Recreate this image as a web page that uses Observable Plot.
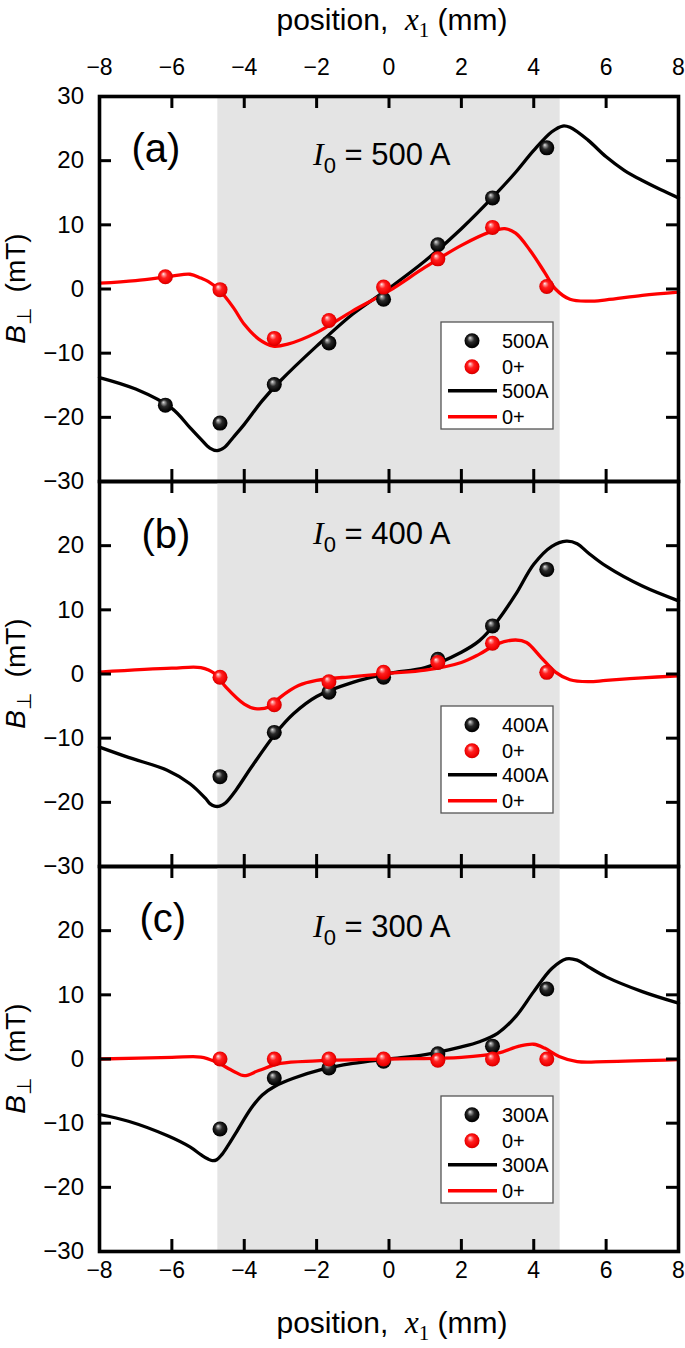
<!DOCTYPE html>
<html><head><meta charset="utf-8">
<script src="https://cdn.jsdelivr.net/npm/d3@7"></script>
<script src="https://cdn.jsdelivr.net/npm/@observablehq/plot@0.6"></script>
<style>
body{margin:0;background:#fff;}
#wrap{position:relative;width:685px;height:1348px;overflow:hidden;background:#fff;font-family:"Liberation Sans",Arial,sans-serif;}
#wrap svg{position:absolute;left:0;}
</style></head><body><div id="wrap"></div>
<script>
// ---------- data ----------
const xTicks = [-8,-6,-4,-2,0,2,4,6,8];
const xInnerTicks = [-6,-4,-2,0,2,4,6];
const yTicksA = [-30,-20,-10,0,10,20,30];
const yTicksBC = [-30,-20,-10,0,10,20];
const yInnerTicks = [-20,-10,0,10,20];
const shadeX1 = -4.73, shadeX2 = 4.73;

// panel (a) I0 = 500 A
const aPtX = [-6.18,-4.67,-3.17,-1.66,-0.15,1.35,2.86,4.36];
const aBlackPtY = [-18.1,-20.9,-14.9,-8.4,-1.6,6.9,14.2,22.0];
const aRedPtY = [1.9,-0.1,-7.7,-4.9,0.3,4.7,9.6,0.4];
const aBlackCurveX = [-8,-7,-6,-5.5,-5.2,-4.95,-4.75,-4.55,-4.3,-4,-3.5,-3,-2,-1,0,1,2,3,3.5,4,4.5,4.8,5,5.5,6,6.5,7,7.5,8];
const aBlackCurveY = [-13.8,-15.6,-18.6,-21.6,-23.4,-24.8,-25.2,-24.7,-23.1,-21.1,-17.4,-14.3,-8.9,-3.9,0.1,4.4,9.4,15.1,18.2,21.6,24.5,25.4,25.2,23.2,20.6,18.5,16.9,15.5,14.2];
const aRedCurveX = [-8,-7,-6,-5.5,-5.2,-5,-4.7,-4.3,-4,-3.6,-3.2,-2.8,-2,-1,0,1,2,2.8,3.2,3.5,3.9,4.3,4.6,5,5.5,6,7,8];
const aRedCurveY = [0.9,1.3,2.0,2.3,1.7,1.2,-0.1,-2.9,-5.5,-7.8,-8.9,-8.6,-6.8,-3.4,-0.3,3.4,6.8,8.9,9.4,8.7,6.0,2.6,0,-1.6,-1.9,-1.7,-1.0,-0.5];
const aLegend = ["500A","0+","500A","0+"];

// panel (b) I0 = 400 A
const bPtX = [-4.67,-3.17,-1.66,-0.15,1.35,2.86,4.36];
const bBlackPtY = [-16.0,-9.1,-2.85,-0.5,2.3,7.5,16.3];
const bRedPtY = [-0.5,-4.8,-1.2,0.26,1.8,4.8,0.26];
const bBlackCurveX = [-8,-7.2,-6.13,-5.5,-5.07,-4.95,-4.82,-4.68,-4.52,-4.23,-3.8,-3.14,-2.64,-2,-1,0,1,2,2.5,3,3.5,4,4.5,4.9,5.2,5.5,6,7,8];
const bBlackCurveY = [-11.4,-13.0,-15.0,-17.1,-19.4,-20.2,-20.6,-20.6,-20.1,-18.1,-14.5,-9.3,-6.2,-3.5,-1.3,0.1,1.0,3.4,5.2,8.3,12.4,17.1,19.9,20.7,20.3,18.9,16.8,13.7,11.4];
const bRedCurveX = [-8,-6,-5.2,-4.8,-4.5,-4,-3.7,-3.3,-3,-2.5,-2,-1,0,1,2,2.5,3,3.5,3.8,4.2,4.6,5,5.5,6,7,8];
const bRedCurveY = [0.3,0.9,1.0,0,-2.1,-4.7,-5.4,-5.1,-3.6,-1.8,-1.0,-0.4,0.1,0.6,1.8,3.1,4.7,5.3,4.9,2.6,0.3,-0.9,-1.2,-1.0,-0.6,-0.3];
const bLegend = ["400A","0+","400A","0+"];

// panel (c) I0 = 300 A
const cPtX = [-4.67,-3.17,-1.66,-0.15,1.35,2.86,4.36];
const cBlackPtY = [-10.9,-2.95,-1.4,-0.36,0.8,2.0,10.9];
const cRedPtY = [0,0,0,0,-0.2,0,0];
const cBlackCurveX = [-8,-7.2,-6.1,-5.5,-5.2,-5.0,-4.88,-4.76,-4.62,-4.45,-4.23,-3.8,-3.5,-3.14,-2.64,-1.9,-1,0,1,2,2.5,3,3.5,4,4.5,4.9,5.2,5.5,6,7,8];
const cBlackCurveY = [-8.65,-9.7,-12.0,-13.7,-14.9,-15.6,-15.85,-15.7,-14.9,-13.5,-11.5,-7.6,-5.6,-4.2,-3.0,-1.7,-0.7,0,0.7,1.9,2.7,4.0,6.6,10.5,14.1,15.6,15.4,14.4,12.8,10.5,8.7];
const cRedCurveX = [-8,-6,-5.2,-4.8,-4.3,-4,-3.6,-3,-2,0,2,3,3.6,4,4.3,4.7,5.2,6,8];
const cRedCurveY = [0,0.25,0.3,-0.4,-1.9,-2.6,-1.8,-0.7,-0.3,0,0.25,0.9,2.0,2.3,1.7,0.4,-0.4,-0.4,-0.1];
const cLegend = ["300A","0+","300A","0+"];

const panelLetters = ["(a)","(b)","(c)"];
const currents = ["500","400","300"];

// ---------- layout ----------
const W = 685, ML = 99, MR = 7;
const FONT = "Liberation Sans, Arial, sans-serif";
const SERIF = "Liberation Serif, Times New Roman, serif";
const zip = (xs, ys) => xs.map((x, i) => ({x, y: ys[i]}));

const panels = [
  {top:0, height:485, mt:96, mb:4, yTicks:yTicksA, axisTop:true, axisBottom:false,
   ptX:aPtX, bPt:aBlackPtY, rPt:aRedPtY, bcX:aBlackCurveX, bcY:aBlackCurveY, rcX:aRedCurveX, rcY:aRedCurveY},
  {top:477, height:393, mt:4, mb:4, yTicks:yTicksBC, axisTop:false, axisBottom:false,
   ptX:bPtX, bPt:bBlackPtY, rPt:bRedPtY, bcX:bBlackCurveX, bcY:bBlackCurveY, rcX:bRedCurveX, rcY:bRedCurveY},
  {top:862, height:486, mt:4, mb:97, yTicks:yTicksBC, axisTop:false, axisBottom:true,
   ptX:cPtX, bPt:cBlackPtY, rPt:cRedPtY, bcX:cBlackCurveX, bcY:cBlackCurveY, rcX:cRedCurveX, rcY:cRedCurveY}
];

const wrap = document.getElementById("wrap");

panels.forEach(p => {
  const plotH = p.height - p.mt - p.mb;
  const plotW = W - ML - MR;
  const tick = {stroke:"#000", strokeWidth:3};
  const marks = [
    Plot.rect([{x1:shadeX1, x2:shadeX2}], {x1:"x1", x2:"x2", fill:"#e4e4e4"}),
    Plot.line(zip(p.bcX, p.bcY), {x:"x", y:"y", stroke:"#000", strokeWidth:3.3, curve:"catmull-rom"}),
    Plot.line(zip(p.rcX, p.rcY), {x:"x", y:"y", stroke:"#ff0000", strokeWidth:3.3, curve:"catmull-rom"}),
    Plot.dot(zip(p.ptX, p.bPt), {x:"x", y:"y", r:7.5, fill:"url(#ballK)"}),
    Plot.dot(zip(p.ptX, p.rPt), {x:"x", y:"y", r:7.5, fill:"url(#ballR)"}),
    Plot.tickX(xInnerTicks, {x:d=>d, ...tick, insetBottom: plotH - 12}),
    Plot.tickX(xInnerTicks, {x:d=>d, ...tick, insetTop: plotH - 12}),
    Plot.tickY(yInnerTicks, {y:d=>d, ...tick, insetRight: plotW - 12}),
    Plot.tickY(yInnerTicks, {y:d=>d, ...tick, insetLeft: plotW - 12}),
    Plot.axisY(p.yTicks, {anchor:"left", tickSize:0, tickPadding:15.5, fontSize:24, label:null}),
    Plot.frame({stroke:"#000", strokeWidth:3.6})
  ];
  if (p.axisTop) marks.push(Plot.axisX(xTicks, {anchor:"top", tickSize:0, tickPadding:21.5, fontSize:23, label:null}));
  if (p.axisBottom) marks.push(Plot.axisX(xTicks, {anchor:"bottom", tickSize:0, tickPadding:10.5, fontSize:23, label:null}));
  const xOpts = {domain:[-8,8]};
  if (!p.axisTop && !p.axisBottom) xOpts.axis = null;
  const svg = Plot.plot({
    width: W, height: p.height,
    marginLeft: ML, marginRight: MR, marginTop: p.mt, marginBottom: p.mb,
    x: xOpts, y: {domain:[-30,30]},
    style: {fontFamily: FONT, background:"transparent", color:"#000", overflow:"visible"},
    marks
  });
  svg.style.top = p.top + "px";
  svg.style.position = "absolute";
  wrap.appendChild(svg);
});

// ---------- overlay: titles, panel labels, legends ----------
const ov = d3.select(wrap).append("svg")
  .attr("width", W).attr("height", 1348)
  .style("top","0px").style("position","absolute")
  .attr("font-family", FONT);

const defs = ov.append("defs");
function ball(id, stops) {
  const g = defs.append("radialGradient").attr("id", id)
    .attr("cx","0.5").attr("cy","0.5").attr("r","0.55").attr("fx","0.36").attr("fy","0.3");
  stops.forEach(([o,c]) => g.append("stop").attr("offset", o).attr("stop-color", c));
}
ball("ballK", [[0,"#e8e8e8"],[0.15,"#9a9a9a"],[0.42,"#2a2a2a"],[0.8,"#050505"],[1,"#000"]]);
ball("ballR", [[0,"#fff4f4"],[0.14,"#ff9a9a"],[0.4,"#ff2020"],[0.8,"#ee0000"],[1,"#b80000"]]);

function xTitle(y) {
  const t = ov.append("text").attr("x", 392).attr("y", y).attr("text-anchor","middle")
    .attr("font-size", 30).attr("fill","#000");
  t.append("tspan").text("position,\u00a0 ");
  t.append("tspan").attr("font-family", SERIF).attr("font-style","italic").attr("font-size",31).text("x");
  t.append("tspan").attr("font-family", SERIF).attr("font-size",21).attr("dy",7).text("1");
  t.append("tspan").attr("dy",-7).text("\u00a0(mm)");
}
xTitle(30);
xTitle(1333);

const frameTops = [96, 481, 866];
const legends = [aLegend, bLegend, cLegend];
const letterX = [131.5, 141.5, 139.5];
const letterBase = [162, 548, 932];
const curBase = [165, 543.5, 936.7];
const legendTop = [322, 706, 1096];

frameTops.forEach((ft, i) => {
  // y-axis title
  const yt = ov.append("text").attr("transform", `translate(25,${ft + 192.5}) rotate(-90)`)
    .attr("text-anchor","middle").attr("font-size", 28).attr("fill","#000");
  yt.append("tspan").attr("font-style","italic").text("B");
  yt.append("tspan").attr("font-size", 20).attr("dy", 6).text("\u22a5");
  yt.append("tspan").attr("dy", -6).text("\u00a0 (mT)");

  // panel letter
  ov.append("text").attr("x", letterX[i]).attr("y", letterBase[i]).attr("font-size", 40).text(panelLetters[i]);

  // current label
  const ct = ov.append("text").attr("x", 313).attr("y", curBase[i]).attr("font-size", 31);
  ct.append("tspan").attr("font-family", SERIF).attr("font-style","italic").attr("font-size", 32).text("I");
  ct.append("tspan").attr("font-size", 22).attr("dy", 8).text("0");
  ct.append("tspan").attr("dy", -8).text(" = " + currents[i] + " A");

  // legend
  const lg = ov.append("g").attr("transform", `translate(441,${legendTop[i]})`);
  lg.append("rect").attr("width", 112).attr("height", 107).attr("fill","#fff")
    .attr("stroke","#555").attr("stroke-width", 1.3);
  const rows = [18.7, 44.7, 68.7, 94.7];
  lg.append("circle").attr("cx", 31).attr("cy", rows[0]).attr("r", 7.5).attr("fill","url(#ballK)");
  lg.append("circle").attr("cx", 31).attr("cy", rows[1]).attr("r", 7.5).attr("fill","url(#ballR)");
  lg.append("line").attr("x1", 7).attr("x2", 56).attr("y1", rows[2]).attr("y2", rows[2]).attr("stroke","#000").attr("stroke-width", 3.6);
  lg.append("line").attr("x1", 7).attr("x2", 56).attr("y1", rows[3]).attr("y2", rows[3]).attr("stroke","#ff0000").attr("stroke-width", 3.6);
  legends[i].forEach((s, k) => {
    lg.append("text").attr("x", 61).attr("y", rows[k] + 7.5).attr("font-size", 20).text(s);
  });
});
</script></body></html>
